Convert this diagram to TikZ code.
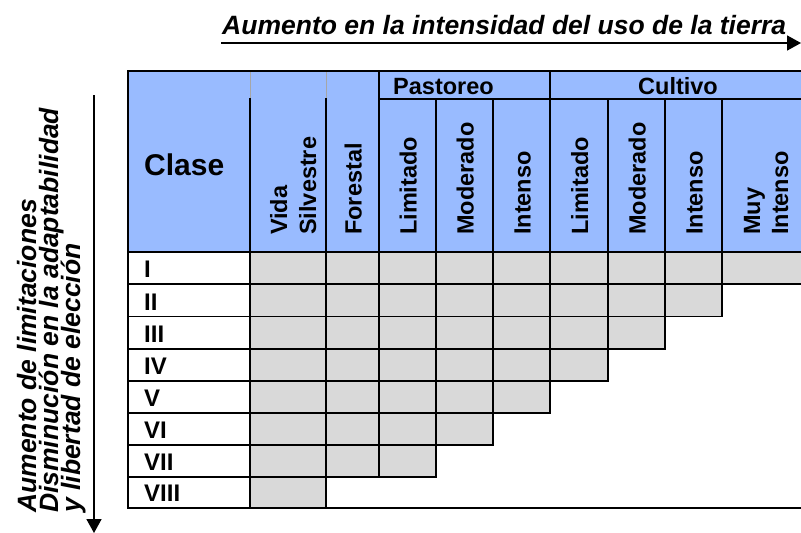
\documentclass[tikz,border=0pt]{standalone}
\usepackage{fontspec}
\setmainfont{Liberation Sans}
\usetikzlibrary{arrows.meta}
\definecolor{hdrblue}{RGB}{153,187,255}
\definecolor{cellgrey}{RGB}{217,217,217}
\begin{document}
\begin{tikzpicture}[x=1pt,y=-1pt,
  gridline/.style={line width=1.8pt, line cap=rect, black},
  faintline/.style={line width=0.8pt, gray!70},
  arr/.style={line width=1.8pt, -{Triangle[length=14pt,width=15pt]}},
  bigital/.style={inner sep=0pt, font=\fontsize{26.5}{22}\selectfont\bfseries\itshape},
  colh/.style={inner sep=0pt, rotate=90, anchor=base west, font=\fontsize{23.5}{28}\selectfont\bfseries},
  grouph/.style={inner sep=0pt, anchor=base west, font=\fontsize{23.5}{28}\selectfont\bfseries},
  rowh/.style={inner sep=0pt, anchor=base west, font=\fontsize{24}{28}\selectfont\bfseries},
  clase/.style={inner sep=0pt, anchor=base west, font=\fontsize{30}{34}\selectfont\bfseries}]
\useasboundingbox (0,0) rectangle (801,533);

% fills
\fill[hdrblue] (128,71) rectangle (801,252);
\fill[cellgrey] (250,252) rectangle (801,284);
\fill[cellgrey] (250,284) rectangle (722,316.5);
\fill[cellgrey] (250,316.5) rectangle (665,349);
\fill[cellgrey] (250,349) rectangle (608,381);
\fill[cellgrey] (250,381) rectangle (550,413);
\fill[cellgrey] (250,413) rectangle (493,445);
\fill[cellgrey] (250,445) rectangle (436,477);
\fill[cellgrey] (250,477) rectangle (326,508);

% faint header lines
\draw[faintline] (250,71) -- (250,99);
\draw[faintline] (326,71) -- (326,99);

% horizontal grid lines
\draw[gridline] (128,71) -- (801,71);
\draw[gridline] (379,99) -- (801,99);
\draw[gridline] (128,252) -- (801,252);
\draw[gridline] (128,284) -- (801,284);
\draw[gridline] (128,316.5) -- (722,316.5);
\draw[gridline] (128,349) -- (665,349);
\draw[gridline] (128,381) -- (608,381);
\draw[gridline] (128,413) -- (550,413);
\draw[gridline] (128,445) -- (493,445);
\draw[gridline] (128,477) -- (436,477);
\draw[gridline] (128,508) -- (801,508);

% vertical grid lines
\draw[gridline] (128,71) -- (128,508);
\draw[gridline] (250,99) -- (250,508);
\draw[gridline] (326,99) -- (326,508);
\draw[gridline] (379,71) -- (379,477);
\draw[gridline] (436,99) -- (436,477);
\draw[gridline] (493,99) -- (493,445);
\draw[gridline] (550,71) -- (550,413);
\draw[gridline] (608,99) -- (608,381);
\draw[gridline] (665,99) -- (665,349);
\draw[gridline] (722,99) -- (722,316.5);

% header texts
\node[clase] (clase) at (144,175) {Clase};
\node[grouph] (past) at (393,94) {Pastoreo};
\node[grouph] (cult) at (638,94) {Cultivo};
\node[colh] (vida) at (287,235) {Vida};
\node[colh] (silv) at (316,235) {Silvestre};
\node[colh] (fore) at (361.5,235) {Forestal};
\node[colh] (plim) at (416.5,235) {Limitado};
\node[colh] (pmod) at (473.5,235) {Moderado};
\node[colh] (pint) at (530.5,235) {Intenso};
\node[colh] (clim) at (588,235) {Limitado};
\node[colh] (cmod) at (645.5,235) {Moderado};
\node[colh] (cint) at (702.5,235) {Intenso};
\node[colh] (muy) at (760,235) {Muy};
\node[colh] (mint) at (788,235) {Intenso};

% row labels
\node[rowh] (r1) at (144,277.5) {I};
\node[rowh] (r2) at (144,310) {II};
\node[rowh] (r3) at (144,342.5) {III};
\node[rowh] (r4) at (144,374.5) {IV};
\node[rowh] (r5) at (144,406.5) {V};
\node[rowh] (r6) at (144,438.5) {VI};
\node[rowh] (r7) at (144,470.5) {VII};
\node[rowh] (r8) at (144,501) {VIII};

% top arrow and caption
\node[bigital, anchor=base west] (toptext) at (222,34) {Aumento en la intensidad del uso de la tierra};
\coordinate (ta) at (221,43);
\coordinate (tb) at (801,43);
\draw[arr] (ta) -- (tb);

% left arrow and caption
\node[bigital, rotate=90, anchor=base west] (s1) at (36,513) {Aumento de limitaciones};
\node[bigital, rotate=90, anchor=base west] (s2) at (58,513) {Disminución en la adaptabilidad};
\node[bigital, rotate=90, anchor=base west] (s3) at (80,513) {y libertad de elección};
\coordinate (la) at (94,95);
\coordinate (lb) at (94,533);
\draw[arr] (la) -- (lb);
\end{tikzpicture}
\end{document}
